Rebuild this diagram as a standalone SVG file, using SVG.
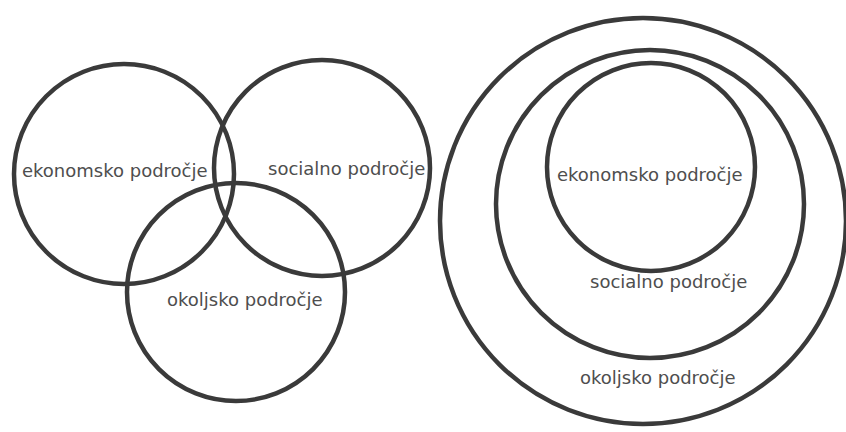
<svg xmlns="http://www.w3.org/2000/svg" width="846" height="432" viewBox="0 0 846 432">
  <style>
    .ring { fill: none; stroke: #3a3a3a; stroke-width: 4.5; }
    .lbl { font-family: "DejaVu Sans", Verdana, sans-serif; font-size: 18px; fill: #4e4e4e; }
  </style>
  <rect width="846" height="432" fill="#ffffff"/>

  <!-- Overlapping model -->
  <g id="venn">
    <g id="venn-ekonomsko">
      <circle class="ring" cx="124" cy="174" r="110"/>
      <text class="lbl" x="22" y="177">ekonomsko področje</text>
    </g>
    <g id="venn-socialno">
      <circle class="ring" cx="322" cy="168" r="108"/>
      <text class="lbl" x="268" y="175">socialno področje</text>
    </g>
    <g id="venn-okoljsko">
      <circle class="ring" cx="236" cy="292" r="109"/>
      <text class="lbl" x="167" y="306">okoljsko področje</text>
    </g>
  </g>

  <!-- Nested model -->
  <g id="nested">
    <g id="nested-okoljsko">
      <circle class="ring" cx="643" cy="221" r="203"/>
      <text class="lbl" x="580" y="384">okoljsko področje</text>
    </g>
    <g id="nested-socialno">
      <circle class="ring" cx="650" cy="204" r="154"/>
      <text class="lbl" x="590" y="288">socialno področje</text>
    </g>
    <g id="nested-ekonomsko">
      <circle class="ring" cx="651" cy="167" r="104"/>
      <text class="lbl" x="557" y="181">ekonomsko področje</text>
    </g>
  </g>
</svg>
